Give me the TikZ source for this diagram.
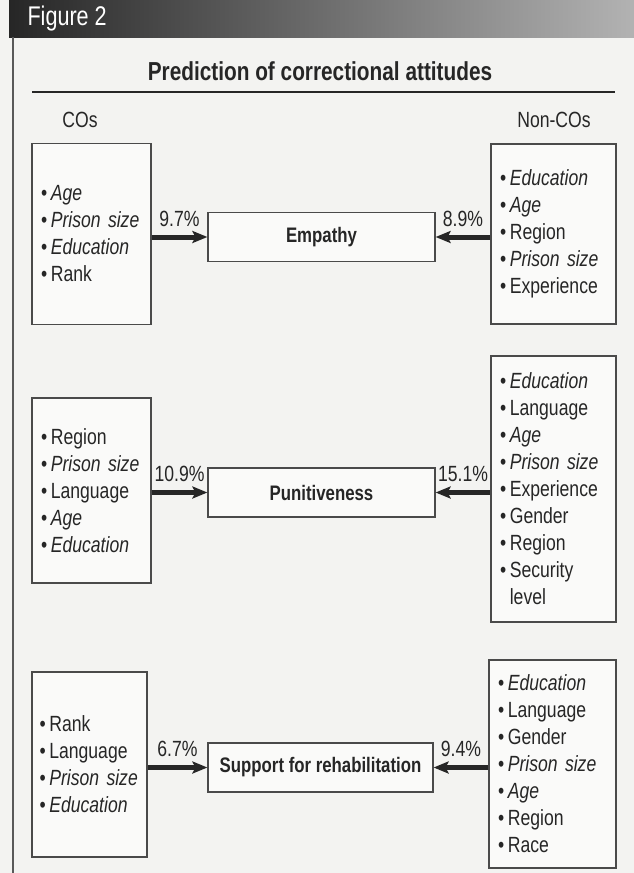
\documentclass[tikz,border=0pt]{standalone}
\usepackage{fontspec}
\setmainfont[FakeStretch=0.8]{Liberation Sans}
\usepackage{xcolor}
\usetikzlibrary{arrows.meta}
\definecolor{paper}{HTML}{F3F3F1}
\definecolor{ink}{HTML}{262626}
\definecolor{rule}{HTML}{4A4A4A}
\newcommand{\itm}{•\,}
\newcommand{\iv}[1]{\textit{#1}}

\begin{document}
\begin{tikzpicture}
  [x=1pt,y=-1pt,
  listbox/.style = {draw=rule, line width=1.2pt, fill=white!55!paper,
                    inner xsep=9pt, align=left, text=ink,
                    font=\fontsize{22}{27}\selectfont},
  attbox/.style = {draw=rule, line width=1.2pt, fill=white!55!paper,
                   minimum width=227pt, minimum height=49pt, text=ink,
                   font=\bfseries\fontsize{21}{25}\selectfont},
  arr/.style = {-{Stealth[length=15pt,width=12pt,inset=3pt]},
                line width=5pt, draw=ink},
  pct/.style = {anchor=south, yshift=8pt, inner sep=0pt, text=ink,
                font=\fontsize{22}{26}\selectfont}]
  \useasboundingbox (0,0) rectangle (634,873);
  \fill[paper] (0,0) rectangle (634,873);
  % header band
  \shade[left color=black!85, right color=black!30] (9,0) rectangle (634,37);
  \node[anchor=west, text=white, font=\fontsize{27}{30}\selectfont] (fig) at (24,19) {Figure 2};
  \draw[line width=1.3pt, black!65] (13,37) -- (13,873);
  % title
  \node[text=ink, font=\bfseries\fontsize{26}{30}\selectfont] (title) at (320,71) {Prediction of correctional attitudes};
  \draw[line width=2pt, ink] (32,92) -- (615,92);
  \node[text=ink, font=\fontsize{22}{26}\selectfont] (cos) at (80,120) {COs};
  \node[text=ink, font=\fontsize{22}{26}\selectfont] (noncos) at (554,120) {Non-COs};
  % Empathy
  \node[listbox, text width=101pt, minimum height=181pt] (cos1) at (91.5,234)
    {\itm\iv{Age}\\ \itm\iv{Prison size}\\ \itm\iv{Education}\\ \itm Rank};
  \node[attbox] (emp) at (321.5,237) {Empathy};
  \node[listbox, text width=107pt, minimum height=180pt] (non1) at (553.5,234)
    {\itm\iv{Education}\\ \itm\iv{Age}\\ \itm Region\\ \itm\iv{Prison size}\\ \itm Experience};
  \draw[arr] (cos1.east |- emp) -- node[pct] {9.7\%} (emp.west);
  \draw[arr] (non1.west |- emp) -- node[pct] {8.9\%} (emp.east);
  % Punitiveness
  \node[listbox, text width=101pt, minimum height=185pt] (cos2) at (91.5,490.5)
    {\itm Region\\ \itm\iv{Prison size}\\ \itm Language\\ \itm\iv{Age}\\ \itm\iv{Education}};
  \node[attbox] (pun) at (321.5,492.5) {Punitiveness};
  \node[listbox, text width=107pt, minimum height=266pt] (non2) at (553.5,489)
    {\itm\iv{Education}\\ \itm Language\\ \itm\iv{Age}\\ \itm\iv{Prison size}\\ \itm Experience\\
     \itm Gender\\ \itm Region\\ \itm Security\\ \phantom{\itm}level};
  \draw[arr] (cos2.east |- pun) -- node[pct] {10.9\%} (pun.west);
  \draw[arr] (non2.west |- pun) -- node[pct] {15.1\%} (pun.east);
  % Support for rehabilitation
  \node[listbox, inner xsep=7.5pt, text width=100pt, minimum height=185pt] (cos3) at (89.5,764.5)
    {\itm Rank\\ \itm Language\\ \itm\iv{Prison size}\\ \itm\iv{Education}};
  \node[attbox, minimum width=225pt] (sup) at (320.5,767.5) {Support for rehabilitation};
  \node[listbox, text width=109pt, minimum height=208pt] (non3) at (552.5,764)
    {\itm\iv{Education}\\ \itm Language\\ \itm Gender\\ \itm\iv{Prison size}\\ \itm\iv{Age}\\
     \itm Region\\ \itm Race};
  \draw[arr] (cos3.east |- sup) -- node[pct] {6.7\%} (sup.west);
  \draw[arr] (non3.west |- sup) -- node[pct] {9.4\%} (sup.east);
\end{tikzpicture}
\end{document}
